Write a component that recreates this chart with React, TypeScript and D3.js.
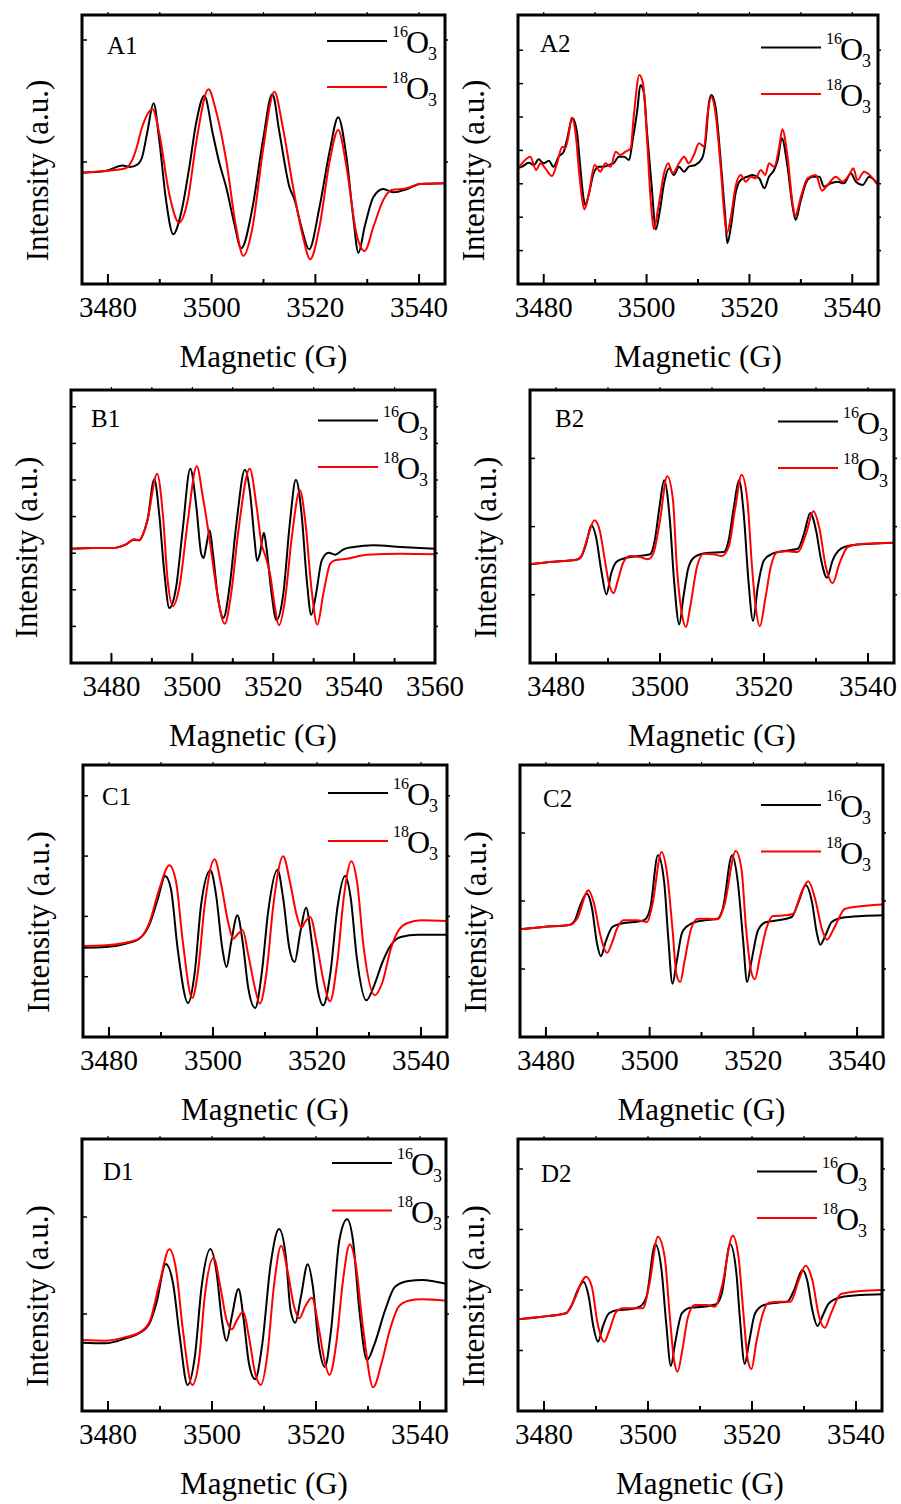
import React from 'react';
import * as d3 from 'd3';

type Pt = [number, number];

// ---------- Data (magnetic field G, intensity a.u.) ----------
const A1_16O3: Pt[] = [[3474.8,111.3],[3479.5,113],[3482.8,118.5],[3484.3,117],[3485.7,119.5],[3486.6,127],[3487.6,152],[3488.8,180.7],[3489.9,144],[3491.2,84],[3492.6,49.7],[3494.1,70.7],[3495.7,117],[3497,160.7],[3498.6,188.3],[3500.2,150.7],[3501.5,120.7],[3502.8,97],[3504.3,62],[3505.7,35.7],[3507.9,77],[3509.9,144],[3511.7,190],[3513.1,150.7],[3515,97],[3516,84],[3517.4,55],[3518.8,34.7],[3520.8,77],[3522.8,134],[3524.4,166.7],[3526,127],[3527.3,67],[3528.3,31.3],[3529.5,57],[3531.2,87],[3533.1,95],[3535,91.7],[3537.6,94.7],[3540.2,100],[3545,100.7]];
const A1_18O3: Pt[] = [[3474.8,111.3],[3479.5,113],[3483.4,115.7],[3484.5,122],[3485.4,134],[3486.6,157],[3488.6,174.7],[3489.9,150.7],[3491.8,90.7],[3493.7,61.3],[3495.4,84],[3497,140.7],[3499.4,194.7],[3500.8,174],[3502.8,124],[3504.7,57.3],[3506.1,28],[3507.9,57.3],[3509.9,134],[3512.1,192.3],[3513.7,157.3],[3515.7,97],[3517.6,47.3],[3519,24.7],[3520.8,57.3],[3522.8,124],[3524.4,154],[3526,117.3],[3527.9,50.7],[3529.5,33],[3531.2,57.3],[3533.1,84],[3534.7,94],[3537.6,95.7],[3540.2,100],[3545,100.7]];

const A2_16O3: Pt[] = [[3474.8,115.7],[3475.8,117.3],[3477.1,121.3],[3478.1,119],[3479,124.7],[3480,120.7],[3481,123.3],[3481.9,117.3],[3482.9,127.3],[3483.9,132.3],[3484.5,144],[3485.6,165.7],[3486.5,150.7],[3487.1,117.3],[3487.8,84],[3488.1,79],[3488.8,90.7],[3489.7,110.7],[3490.7,117.3],[3491.7,117.3],[3492.7,119],[3493.6,120.7],[3494.6,127.3],[3495.6,127.3],[3496.6,124],[3497.3,144],[3498.2,174],[3498.8,199],[3499.5,190.7],[3500.1,150.7],[3501,97.3],[3501.8,54.7],[3502.5,70.7],[3503.4,100.7],[3504.4,115.7],[3505.3,109],[3506.3,117.3],[3507.3,112.3],[3508.2,117.3],[3509.5,119],[3510.8,125.7],[3511.5,144],[3512.1,180],[3512.6,189],[3513.4,177.3],[3514.4,124],[3515.3,67.3],[3515.7,40.7],[3516.4,57.3],[3517.3,90.7],[3518.3,104],[3519.6,107.3],[3520.6,109],[3521.9,105.7],[3522.9,95.7],[3523.8,107.3],[3524.8,114],[3525.5,124],[3526.3,145.7],[3527.4,117.3],[3528.4,77.3],[3529,64],[3530,84],[3531.3,104],[3532.3,107.3],[3533.6,107.3],[3534.5,97.3],[3535.8,100.7],[3537.1,102.3],[3538.4,100.7],[3539.7,110.7],[3540.7,102.3],[3542,99],[3543.3,107.3],[3544.8,100.7]];
const A2_18O3: Pt[] = [[3474.8,114],[3475.8,120.7],[3477.4,127.3],[3478.5,114],[3479.4,120.7],[3480.3,115.7],[3481.6,108],[3482.6,120.7],[3483.6,137.3],[3484.2,135.7],[3484.9,150.7],[3485.4,166.3],[3486.2,150.7],[3486.9,110.7],[3487.5,84],[3487.9,74.7],[3488.8,90.7],[3489.9,119],[3491,112.3],[3492,120.7],[3493,117.3],[3494,132.3],[3494.9,129],[3495.9,132.3],[3496.9,135.7],[3497.5,167.3],[3498.6,209],[3499.3,200.7],[3500.1,144],[3500.8,84],[3501.4,54.7],[3502.3,77.3],[3503.4,110.7],[3504.2,120.7],[3505.1,110.7],[3506.3,120.7],[3507.3,127.3],[3508.2,120.7],[3509.2,129],[3510.2,140.7],[3511.2,137.3],[3511.8,167.3],[3512.6,186.7],[3513.4,170.7],[3514.4,117.3],[3515.1,70.7],[3515.6,50.7],[3516.4,67.3],[3517.3,97.3],[3518.3,109],[3519.3,102.3],[3520.3,107.3],[3521.2,105.7],[3522.2,114],[3523.1,109],[3523.8,120.7],[3524.8,117.3],[3525.8,137.3],[3526.4,154.7],[3527.4,127.3],[3528.4,80.7],[3528.9,68],[3530,87.3],[3531.3,105.7],[3532.9,109],[3534.1,93.3],[3535.2,99],[3536.8,107.3],[3538.1,102.3],[3539.4,109],[3540.2,115.7],[3541,104],[3542.3,112.3],[3543.4,109],[3544.8,100]];

const B1_16O3: Pt[] = [[3469.6,114.3],[3475.3,115],[3480.2,115],[3483.6,118.7],[3485.6,123.3],[3486.9,122.7],[3487.7,127.7],[3488.9,142.7],[3490.6,183.7],[3491.8,149.3],[3493.1,89.3],[3494.3,55],[3496,76],[3497.6,132.7],[3499.5,194.3],[3501,156],[3502.2,109.3],[3502.8,105],[3503.4,116],[3504.3,132.7],[3505.1,109.3],[3506.3,66],[3507.7,45.3],[3509.2,76],[3510.9,139.3],[3513,193.3],[3514.2,172.7],[3515.4,122.7],[3516,102],[3516.7,109.3],[3517.7,130.3],[3518.3,116],[3519.6,69.3],[3520.8,42.7],[3522.5,69.3],[3524.1,139.3],[3525.6,183.3],[3527,149.3],[3528.3,82.7],[3529.4,48.3],[3530.6,69.3],[3532,102.7],[3533.7,110.3],[3535.3,108.3],[3537.4,113.7],[3539.9,116],[3544.8,117.7],[3551.5,116],[3560.2,114.3]];
const B1_18O3: Pt[] = [[3469.6,114.3],[3475.3,115],[3480.2,115],[3483.6,118.7],[3485.6,123.7],[3486.9,122.7],[3487.7,127.7],[3488.9,142.7],[3491.3,189.3],[3492.7,149.3],[3493.9,82.7],[3495.2,57],[3496.8,76],[3498.9,142.7],[3501.1,196.7],[3502.6,166],[3504.3,122.7],[3505.9,76],[3508,39.3],[3509.6,69.3],[3511.3,129.3],[3514.2,194.3],[3515.9,156],[3517.1,119.3],[3518,107.7],[3519.2,89.3],[3520.4,56],[3521.4,37.7],[3522.9,62.7],[3524.6,126],[3526.6,172.7],[3527.9,142.7],[3529.5,72.7],[3530.9,38.3],[3532.4,69.3],[3534.1,99.3],[3535.3,102.7],[3538.2,104.3],[3543.2,108.3],[3551.5,109.3],[3560.2,108.7]];

const B2_16O3: Pt[] = [[3474.9,98.7],[3478.7,101],[3483.9,103.3],[3484.8,106],[3485.8,119.3],[3486.8,137.7],[3487.7,126],[3488.7,92.7],[3489.7,68.7],[3490.6,89.3],[3491.6,101],[3492.9,104.3],[3495.5,106.7],[3498.1,108.7],[3499,122.7],[3499.9,156],[3500.8,182.7],[3501.9,142.7],[3502.7,82.7],[3503.7,38.7],[3504.5,66],[3505.5,96],[3506.8,106.7],[3509,110],[3512.3,111],[3513.2,122.7],[3514.2,156],[3515.2,182.7],[3516.1,149.3],[3517,82.7],[3517.9,42],[3518.8,76],[3520,102.7],[3521.6,109.3],[3523.9,112],[3526.5,114.3],[3527.7,129.3],[3528.9,150],[3530,132.7],[3531,102.7],[3532.1,85.3],[3533.2,102.7],[3534.8,114.3],[3536.8,117.7],[3540.6,119.3],[3545.4,120.3]];
const B2_18O3: Pt[] = [[3474.9,98.7],[3478.7,101],[3483.9,103.3],[3484.8,106],[3486.1,126],[3487.4,142.7],[3488.4,132.7],[3489.4,102.7],[3490.2,79.3],[3491.1,70],[3491.9,82.7],[3492.9,100],[3494.2,107],[3496.1,106],[3497.7,103.7],[3498.7,109.3],[3499.9,139.3],[3501.4,186.7],[3502.5,162.7],[3503.2,99.3],[3504.2,49.3],[3505,36],[3505.8,56],[3507.1,96],[3508.4,109.3],[3510.3,108.7],[3511.9,107],[3513.2,116],[3514.5,156],[3515.7,188.3],[3516.8,162.7],[3517.7,96],[3518.4,56],[3519.2,36.7],[3520.3,66],[3521.3,96],[3522.6,111],[3524.5,111.7],[3526.5,111],[3528.1,129.3],[3529.5,151.7],[3530.6,136],[3531.9,96],[3533.2,80],[3534.5,99.3],[3536.1,116],[3538.1,118.7],[3545.4,120.3]];

const C1_16O3: Pt[] = [[3474.8,89.3],[3479.4,90],[3483.2,93.3],[3485.8,98.3],[3487.7,111.7],[3489.4,138.3],[3490.8,161],[3491.9,148.3],[3493.2,88.3],[3495.2,34],[3496.5,65],[3497.7,131.7],[3499.5,166.7],[3500.6,141.7],[3501.8,88.3],[3502.6,70],[3503.5,95],[3504.7,121.7],[3505.7,95],[3506.8,48.3],[3508.1,29],[3509.4,65],[3510.6,125],[3512.4,167.3],[3513.5,138.3],[3514.7,88.3],[3515.7,75],[3516.8,105],[3517.9,129.3],[3519,95],[3520.1,48.3],[3521.2,31.7],[3522.6,65],[3523.9,128.3],[3525.4,161],[3526.5,138.3],[3527.6,81.7],[3529.5,36.7],[3531,51.7],[3532.6,75],[3534.2,91.7],[3536.1,100],[3539.4,102.3],[3545.2,102.3]];
const C1_18O3: Pt[] = [[3474.8,91],[3479.4,91.7],[3483.2,94.3],[3485.8,98.3],[3487.7,113.3],[3489.7,148.3],[3491.6,171.7],[3492.9,155],[3494.2,95],[3496,39],[3497.1,65],[3498.4,131.7],[3500.3,177.7],[3501.6,151.7],[3502.9,115],[3503.9,98.3],[3504.8,103.3],[3505.7,106.7],[3506.8,81.7],[3508.1,48.3],[3509,33.3],[3510.3,65],[3511.6,131.7],[3513.5,180.7],[3514.8,155],[3516.1,121.7],[3517,109.3],[3517.7,115],[3518.7,120],[3520,91.7],[3521.3,55],[3522.5,35.7],[3523.9,75],[3525.2,141.7],[3526.6,175.7],[3527.7,155],[3529,88.3],[3531.1,41.7],[3532.6,55],[3534.2,88.3],[3535.5,105],[3537.4,114],[3540,116.7],[3545.2,116]];

const C2_16O3: Pt[] = [[3474.95,107.7],[3479.5,110],[3484.7,112.3],[3485.6,116.7],[3486.6,131.7],[3487.9,143.3],[3488.9,128.3],[3489.8,95],[3490.6,80.7],[3491.5,95],[3492.8,110],[3494.4,113.3],[3497,115],[3498.9,116.7],[3500.1,128.3],[3501.6,181.7],[3502.8,155],[3503.6,98.3],[3504.4,53.3],[3505.2,75],[3506.3,105],[3508,113.3],[3510.6,116.7],[3513.1,118.3],[3514.1,128.3],[3515.9,181.7],[3517,155],[3518,98.3],[3518.8,55],[3519.6,75],[3520.9,106.7],[3522.5,115],[3524.8,116.7],[3527.4,120],[3528.7,135],[3530.1,151.7],[3531.3,135],[3532.2,105],[3532.9,92.3],[3533.9,101.7],[3535.1,115],[3537.1,119.3],[3541,121],[3545.5,121.7]];
const C2_18O3: Pt[] = [[3474.95,107.7],[3479.5,110],[3484.7,112.3],[3486,118.3],[3488.2,146.7],[3489.2,135],[3490.5,101.7],[3491.8,84.3],[3492.8,95],[3493.7,108.3],[3495,116.7],[3497.6,116.7],[3499.5,115],[3500.5,131.7],[3502.3,185],[3503.4,161.7],[3504.4,108.3],[3505.2,61.7],[3505.9,55],[3506.7,75],[3508,108.3],[3509.3,118.3],[3511.2,118.3],[3513.1,117.7],[3514.4,131.7],[3516.6,186],[3517.7,168.3],[3518.6,108.3],[3519.6,65],[3520.3,57.7],[3521.2,78.3],[3522.5,108.3],[3523.8,121],[3526.1,121.7],[3527.7,123.3],[3529.3,145],[3530.6,155.7],[3531.9,138.3],[3533.2,108.3],[3534.2,97.3],[3535.5,108.3],[3537.7,128.3],[3541,131],[3545.5,132.7]];

const D1_16O3: Pt[] = [[3474.7,68.3],[3479.5,67.7],[3483.4,72.7],[3486,77.7],[3488,87.7],[3489.3,107.7],[3491.1,147],[3492.5,127.7],[3493.8,74.3],[3495.3,26],[3496.7,54.3],[3498,124.3],[3499.7,162],[3500.9,137.7],[3501.9,91],[3502.8,70.3],[3503.8,94.3],[3505.1,122],[3506.1,91],[3507.1,47.7],[3508.3,31.7],[3509.6,64.3],[3511.3,147.7],[3512.9,182],[3514.2,154.3],[3515.1,101],[3516,88.3],[3517.1,114.3],[3518.4,146.7],[3519.4,124.3],[3520.5,67.7],[3521.7,44.3],[3522.9,81],[3524.5,171],[3526,191.7],[3527.1,171],[3528.4,97.7],[3529.8,51],[3531.3,67.7],[3533.3,101],[3535.2,124.3],[3537.8,130],[3540.4,131],[3543,129.3],[3545.4,126.7]];
const D1_18O3: Pt[] = [[3474.7,71],[3479.5,70.3],[3483.4,74],[3486,78.3],[3488,89.3],[3489.9,127.7],[3491.8,161.7],[3493.1,141],[3494.4,81],[3496.2,26],[3497.5,51],[3498.6,114.3],[3500.3,153.3],[3501.6,124.3],[3502.8,91],[3503.8,81.7],[3504.8,91],[3506,99.3],[3507.1,74.3],[3508.3,37.7],[3509.4,26],[3510.6,54.3],[3511.9,124.3],[3513.3,165.3],[3514.5,141],[3515.8,104.3],[3516.8,92.7],[3517.9,104.3],[3519.2,113.3],[3520.6,81],[3521.6,51],[3522.6,36],[3523.9,67.7],[3525.2,131],[3526.5,166.7],[3527.6,147.7],[3529.1,81],[3531,23.7],[3532.6,47.7],[3534.2,81],[3535.9,104.3],[3537.8,110.3],[3540.4,111.7],[3545.4,110]];

const D2_16O3: Pt[] = [[3474.7,91.7],[3479.7,94.3],[3484.2,97.7],[3485.2,104.3],[3486.5,121],[3487.6,129.3],[3488.6,114.3],[3489.5,84.3],[3490.4,69.3],[3491.3,84.3],[3492.5,97.7],[3494.2,101],[3496.5,101.7],[3498.4,104.3],[3499.7,114.3],[3501.4,166.7],[3502.6,141],[3503.5,87.7],[3504.4,45],[3505.2,67.7],[3506.5,97.7],[3508.1,103.3],[3510.6,104.3],[3513.2,107],[3514.2,117.7],[3515.8,166.7],[3517,137.7],[3517.7,91],[3518.6,47],[3519.4,67.7],[3520.6,97.7],[3522.3,106],[3524.8,108.3],[3526.8,109.3],[3528.1,121],[3529.7,141],[3530.6,131],[3531.6,101],[3532.6,85],[3533.5,94.3],[3534.8,107.7],[3537.1,113.7],[3541,116],[3545.3,116.7]];
const D2_18O3: Pt[] = [[3474.7,91.7],[3479.7,94.3],[3484.2,97.7],[3485.5,107.7],[3488.1,134.3],[3489.2,124.3],[3490.3,87.7],[3491.6,69.3],[3492.6,81],[3493.9,99.3],[3495.2,102.7],[3497.1,102.7],[3499,102.7],[3500.3,127.7],[3501.9,174.3],[3503.2,154.3],[3504.2,94.3],[3505,51],[3505.7,39.3],[3506.6,61],[3507.7,94.3],[3509,106],[3511.3,106],[3512.9,104.3],[3514.2,124.3],[3516.3,175.3],[3517.4,154.3],[3518.4,94.3],[3519.2,51],[3519.9,42],[3520.8,67.7],[3521.9,94.3],[3523.2,108.3],[3525.5,109.3],[3527.4,109.3],[3529,131],[3530.3,145.3],[3531.6,131],[3532.9,94.3],[3534,83.3],[3535.2,97.7],[3537.1,117],[3541,120],[3545.3,121]];

const TICKS_70 = [3480, 3500, 3520, 3540];
const MINOR_70 = [3490, 3510, 3530];
const TICKS_90 = [3480, 3500, 3520, 3540, 3560];
const MINOR_90 = [3490, 3510, 3530, 3550];
const SERIES_NAMES = ['16', '18'];

// ---------- Layout ----------
interface PanelCfg {
  id: string; left: number; right: number; top: number; bottom: number;
  xDomain: [number, number]; major: number[]; minor: number[];
  yStep: number; s16: Pt[]; s18: Pt[];
  leg: [number, number]; legEnd: number; lab: [number, number];
}

const PANELS: PanelCfg[] = [
  { id: 'A1', left: 82, right: 445, top: 15, bottom: 284, xDomain: [3475, 3545], major: TICKS_70, minor: MINOR_70, yStep: 122, s16: A1_16O3, s18: A1_18O3, leg: [41, 87], legEnd: 387, lab: [107, 54] },
  { id: 'A2', left: 518, right: 878, top: 15, bottom: 284, xDomain: [3475, 3545], major: TICKS_70, minor: MINOR_70, yStep: 33.4, s16: A2_16O3, s18: A2_18O3, leg: [47.5, 94], legEnd: 821, lab: [540, 52] },
  { id: 'B1', left: 71, right: 435, top: 390, bottom: 663, xDomain: [3470, 3560], major: TICKS_90, minor: MINOR_90, yStep: 36.6, s16: B1_16O3, s18: B1_18O3, leg: [420.5, 467], legEnd: 378, lab: [91, 427] },
  { id: 'B2', left: 530, right: 894, top: 390, bottom: 663, xDomain: [3475, 3545], major: TICKS_70, minor: MINOR_70, yStep: 68.2, s16: B2_16O3, s18: B2_18O3, leg: [421.5, 468], legEnd: 838, lab: [555, 427] },
  { id: 'C1', left: 83, right: 447, top: 765, bottom: 1037, xDomain: [3475, 3545], major: TICKS_70, minor: MINOR_70, yStep: 60.3, s16: C1_16O3, s18: C1_18O3, leg: [793, 841], legEnd: 388, lab: [102, 805] },
  { id: 'C2', left: 520, right: 883, top: 765, bottom: 1037, xDomain: [3475, 3545], major: TICKS_70, minor: MINOR_70, yStep: 68, s16: C2_16O3, s18: C2_18O3, leg: [805, 851.5], legEnd: 821, lab: [543, 807] },
  { id: 'D1', left: 82, right: 446, top: 1139, bottom: 1411, xDomain: [3475, 3545], major: TICKS_70, minor: MINOR_70, yStep: 97, s16: D1_16O3, s18: D1_18O3, leg: [1163, 1210.5], legEnd: 392, lab: [103, 1180] },
  { id: 'D2', left: 518, right: 882, top: 1139, bottom: 1411, xDomain: [3475, 3545], major: TICKS_70, minor: MINOR_70, yStep: 60.5, s16: D2_16O3, s18: D2_18O3, leg: [1171.5, 1218], legEnd: 817, lab: [541, 1182] },
];

const FONT = "'Liberation Serif', 'Times New Roman', Times, serif";

function Panel({ p }: { p: PanelCfg }) {
  const h = p.bottom - p.top;
  const x = d3.scaleLinear().domain(p.xDomain).range([p.left, p.right]);
  const y = d3.scaleLinear().domain([0, h]).range([p.bottom, p.top]);
  const line = d3.line<Pt>().x(d => x(d[0])).y(d => y(d[1])).curve(d3.curveMonotoneX);
  const yTicks = d3.range(p.yStep, h - 4, p.yStep);
  const allX = [...p.major, ...p.minor].filter(v => v > p.xDomain[0] && v < p.xDomain[1]);
  const clipId = `clip-${p.id}`;
  const cy = (p.top + p.bottom) / 2 + 21;
  return (
    <g>
      <defs>
        <clipPath id={clipId}>
          <rect x={p.left} y={p.top} width={p.right - p.left} height={h} />
        </clipPath>
      </defs>
      <g clipPath={`url(#${clipId})`}>
        <path d={line(p.s16) || ''} fill="none" stroke="#000" strokeWidth={2} />
        <path d={line(p.s18) || ''} fill="none" stroke="#ff0000" strokeWidth={2} />
      </g>
      {p.major.map(v => (
        <line key={'M' + v} x1={x(v)} x2={x(v)} y1={p.bottom} y2={p.bottom - 10} stroke="#000" strokeWidth={2} />
      ))}
      {p.minor.map(v => (
        <line key={'m' + v} x1={x(v)} x2={x(v)} y1={p.bottom} y2={p.bottom - 5} stroke="#000" strokeWidth={2} />
      ))}
      {allX.map(v => (
        <line key={'t' + v} x1={x(v)} x2={x(v)} y1={p.top} y2={p.top - 3} stroke="#000" strokeWidth={1.2} />
      ))}
      {yTicks.map(v => (
        <g key={'y' + v}>
          <line x1={p.left} x2={p.left + 5} y1={y(v)} y2={y(v)} stroke="#000" strokeWidth={1.5} />
          <line x1={p.right} x2={p.right + 3} y1={y(v)} y2={y(v)} stroke="#000" strokeWidth={1.5} />
        </g>
      ))}
      <rect x={p.left} y={p.top} width={p.right - p.left} height={h} fill="none" stroke="#000" strokeWidth={3} />
      {p.major.map(v => (
        <text key={'L' + v} x={x(v)} y={p.bottom + 33} textAnchor="middle" fontFamily={FONT} fontSize={29} fill="#000">{v}</text>
      ))}
      <text x={(p.left + p.right) / 2} y={p.bottom + 83} textAnchor="middle" fontFamily={FONT} fontSize={31} fill="#000">Magnetic (G)</text>
      <text transform={`translate(${p.left - 34},${cy}) rotate(-90)`} textAnchor="middle" fontFamily={FONT} fontSize={31} fill="#000">Intensity (a.u.)</text>
      <text x={p.lab[0]} y={p.lab[1]} fontFamily={FONT} fontSize={25} fill="#000">{p.id}</text>
      {SERIES_NAMES.map((s, i) => {
        const ly = p.leg[i];
        return (
          <g key={s}>
            <line x1={p.legEnd - 60} x2={p.legEnd} y1={ly} y2={ly} stroke={i === 0 ? '#000' : '#ff0000'} strokeWidth={2} />
            <text x={p.legEnd + 5} y={ly - 4} fontFamily={FONT} fontSize={16} fill="#000">{s}</text>
            <text x={p.legEnd + 19} y={ly + 12} fontFamily={FONT} fontSize={32} fill="#000">O</text>
            <text x={p.legEnd + 41} y={ly + 19} fontFamily={FONT} fontSize={18} fill="#000">3</text>
          </g>
        );
      })}
    </g>
  );
}

export default function App() {
  return (
    <svg width={901} height={1504} style={{ position: 'absolute', left: 0, top: 0, background: '#fff' }}>
      <rect x={0} y={0} width={901} height={1504} fill="#fff" />
      {PANELS.map(p => <Panel key={p.id} p={p} />)}
    </svg>
  );
}
